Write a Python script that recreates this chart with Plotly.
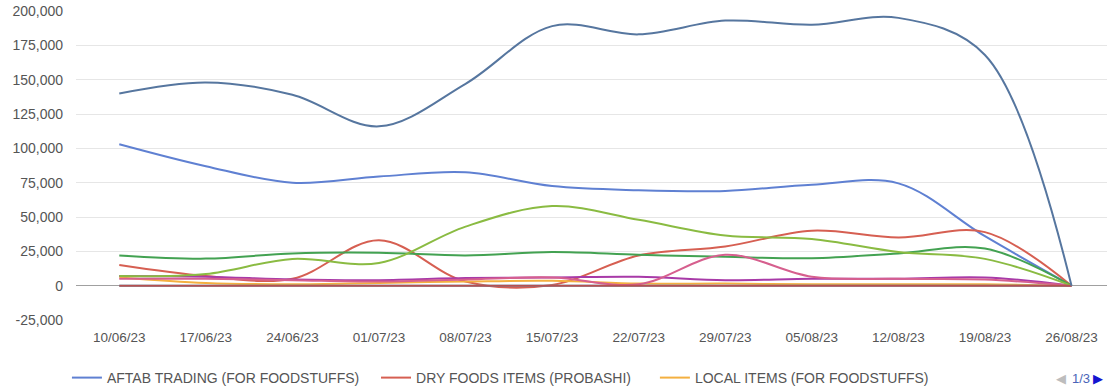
import plotly.graph_objects as go

dates = ["10/06/23", "17/06/23", "24/06/23", "01/07/23", "08/07/23", "15/07/23",
         "22/07/23", "29/07/23", "05/08/23", "12/08/23", "19/08/23", "26/08/23"]

aftab = [103000, 87000, 75000, 79500, 82500, 72500, 69500, 69000, 73500, 74500, 36000, 0]
dry_foods = [15000, 7000, 5000, 33000, 3000, 500, 22000, 28500, 40000, 35000, 39000, 0]
local_items = [6000, 2000, 1000, 2000, 3000, 3500, 1500, 1500, 1000, 1000, 1000, 0]
series_green = [22000, 19700, 23500, 24000, 22000, 24500, 22500, 21000, 20000, 23500, 27000, 0]
series_purple = [7000, 6500, 4500, 4000, 5500, 6000, 6500, 4000, 5000, 5000, 6000, 0]
series_teal = [0, 0, 0, 0, 0, 0, 0, 0, 0, 0, 0, 0]
series_pink = [5000, 5000, 4000, 3000, 4500, 6000, 1000, 22500, 6500, 5000, 4500, 0]
series_lime = [7000, 8500, 19500, 16500, 43000, 58000, 48000, 36500, 34000, 24500, 19500, 0]
series_darkred = [0, 0, 0, 0, 0, 0, 0, 0, 0, 0, 0, 0]
series_slate = [140000, 148000, 139000, 116000, 147000, 189000, 183000, 193000, 190000, 195000, 168000, 0]

y_tick_vals = [-25000, 0, 25000, 50000, 75000, 100000, 125000, 150000, 175000, 200000]
y_tick_text = ["-25,000", "0", "25,000", "50,000", "75,000", "100,000", "125,000",
               "150,000", "175,000", "200,000"]

legend_names = ["AFTAB TRADING (FOR FOODSTUFFS)", "DRY FOODS ITEMS (PROBASHI)",
                "LOCAL ITEMS (FOR FOODSTUFFS)"]

FONT = "Liberation Sans, Arial, sans-serif"

fig = go.Figure()

def add(y, color, name=None, legend=None):
    fig.add_trace(go.Scatter(
        x=dates, y=y, mode="lines", name=name or "",
        line=dict(color=color, width=2, shape="spline", smoothing=1.0),
        showlegend=legend is not None, legend=legend or "legend",
        hoverinfo="skip"))

add(aftab, "#5f80d2", legend_names[0], "legend")
add(dry_foods, "#d65f52", legend_names[1], "legend2")
add(local_items, "#f4b040", legend_names[2], "legend3")
add(series_green, "#43a252")
add(series_purple, "#a83aa8")
add(series_teal, "#3aaccf")
add(series_pink, "#d65f8e")
add(series_lime, "#8abb42")
add(series_darkred, "#b85050")
add(series_slate, "#56769f")

legend_common = dict(orientation="h", yref="container", yanchor="middle",
                     y=(392 - 378) / 392, xanchor="left",
                     font=dict(family=FONT, size=14, color="#555555"),
                     bgcolor="rgba(0,0,0,0)", borderwidth=0)
fig.update_layout(
    width=1107, height=392,
    margin=dict(l=76, r=0, t=11, b=72),
    plot_bgcolor="white", paper_bgcolor="white",
    legend=dict(x=-0.0088, **legend_common),
    legend2=dict(x=0.291, **legend_common),
    legend3=dict(x=0.5615, **legend_common),
    xaxis=dict(type="category", range=[-0.5, 11.41], showgrid=False, zeroline=False,
               showline=False, ticks="", ticklabelstandoff=7,
               tickfont=dict(family=FONT, size=13.5, color="#555555")),
    yaxis=dict(range=[-25000, 200000], tickvals=y_tick_vals, ticktext=y_tick_text,
               showgrid=True, gridcolor="#e6e6e6", gridwidth=1,
               zeroline=True, zerolinecolor="#a0a0a0", zerolinewidth=1,
               showline=False, ticks="", ticklabelstandoff=12,
               tickfont=dict(family=FONT, size=14, color="#555555")),
    hovermode=False,
)

pager = [(1061, "◀", "DejaVu Sans", 13, "#bdbdbd"),
         (1081, "1/3", FONT, 13, "#4a64b8"),
         (1098, "▶", "DejaVu Sans", 13, "#1414d0")]
for px, txt, fam, size, col in pager:
    fig.add_annotation(x=(px - 76) / 1031, y=(320 - 378) / 309, xref="paper", yref="paper",
                       xanchor="center", yanchor="middle", text=txt, showarrow=False,
                       font=dict(family=fam, size=size, color=col))

fig.write_html("out.html")
